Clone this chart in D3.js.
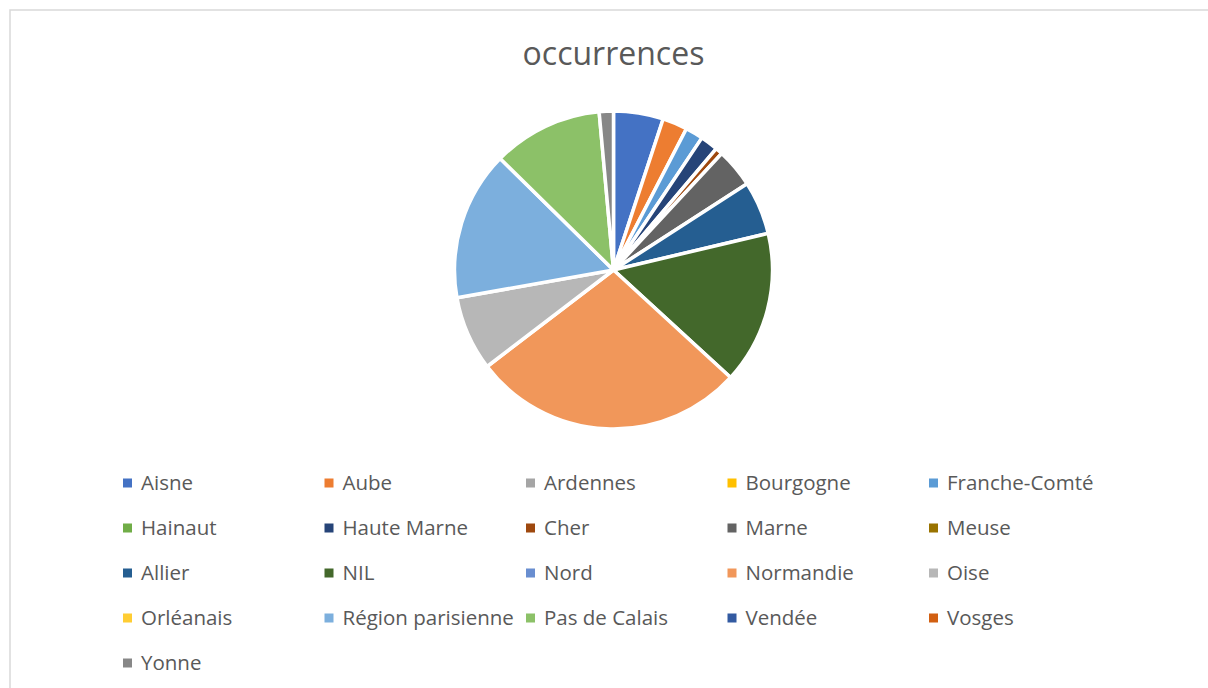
<!DOCTYPE html>
<html>
<head>
<meta charset="utf-8">
<script src="https://cdn.jsdelivr.net/npm/d3@7"></script>
<style>
  body { margin: 0; background: #fff; }
  text { font-family: "Open Sans", sans-serif; }
</style>
</head>
<body>
<script>
// dimensions
var width = 1208;
var height = 688;
var cx = 613.5, cy = 270, radius = 159;

// data
var regions = ["Aisne", "Aube", "Ardennes", "Bourgogne", "Franche-Comté",
  "Hainaut", "Haute Marne", "Cher", "Marne", "Meuse",
  "Allier", "NIL", "Nord", "Normandie", "Oise",
  "Orléanais", "Région parisienne", "Pas de Calais", "Vendée", "Vosges",
  "Yonne"];
var occurrences = [14, 7, 0, 0, 5,
  0, 5, 2, 11, 0,
  15, 43, 0, 77, 21,
  0, 42, 31, 0, 0,
  4];
var colors = ["#4472C4", "#ED7D31", "#A5A5A5", "#FFC000", "#5B9BD5",
  "#70AD47", "#264478", "#9E480E", "#636363", "#997300",
  "#255E91", "#43682B", "#698ED0", "#F1975A", "#B7B7B7",
  "#FFCD33", "#7CAFDD", "#8CC168", "#335AA1", "#D26012",
  "#878787"];

var dataset = regions.map(function(d, i) {
  return {name: d, value: occurrences[i], color: colors[i]};
});

var svg = d3.select("body").append("svg")
  .attr("width", width)
  .attr("height", height);

// chart frame
svg.append("rect")
  .attr("x", 10).attr("y", 10)
  .attr("width", width).attr("height", height)
  .attr("fill", "none")
  .attr("stroke", "#d9d9d9")
  .attr("stroke-width", 1.5);

// title
svg.append("text")
  .attr("x", cx)
  .attr("y", 65)
  .attr("text-anchor", "middle")
  .attr("font-size", 32)
  .attr("fill", "#595959")
  .text("occurrences");

// pie
var pie = d3.pie()
  .sort(null)
  .value(function(d) { return d.value; });

var path = d3.arc()
  .outerRadius(radius)
  .innerRadius(0);

var g = svg.append("g")
  .attr("transform", "translate(" + cx + "," + cy + ")");

g.selectAll(".arc")
  .data(pie(dataset).filter(function(d) { return d.data.value > 0; }))
  .enter().append("path")
    .attr("class", "arc")
    .attr("d", path)
    .attr("fill", function(d) { return d.data.color; })
    .attr("stroke", "#fff")
    .attr("stroke-width", 3.5)
    .attr("stroke-linejoin", "round");

// legend
var cols = 5;
var colX = d3.scaleLinear().domain([0, 1]).range([123, 324.5]);
var rowY = d3.scaleLinear().domain([0, 1]).range([483, 528]);

var legend = svg.selectAll(".legend")
  .data(dataset)
  .enter().append("g")
    .attr("class", "legend")
    .attr("transform", function(d, i) {
      return "translate(" + colX(i % cols) + "," + rowY(Math.floor(i / cols)) + ")";
    });

legend.append("rect")
  .attr("x", 0).attr("y", -4.5)
  .attr("width", 9).attr("height", 9)
  .attr("fill", function(d) { return d.color; });

legend.append("text")
  .attr("x", 18)
  .attr("y", 0)
  .attr("dy", "0.35em")
  .attr("font-size", 20.5)
  .attr("fill", "#595959")
  .text(function(d) { return d.name; });
</script>
</body>
</html>
